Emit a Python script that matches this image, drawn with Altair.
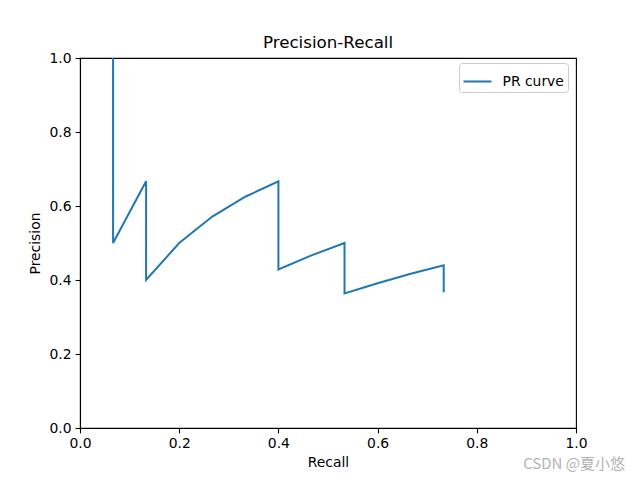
import altair as alt
import pandas as pd

recall = [0.0667, 0.0667, 0.1333, 0.1333, 0.2, 0.2667, 0.3333, 0.4, 0.4, 0.4667,
          0.5333, 0.5333, 0.6, 0.6667, 0.7333, 0.7333]
precision = [1.0, 0.5, 0.6667, 0.4, 0.5, 0.5714, 0.625, 0.6667, 0.4286, 0.4667,
             0.5, 0.3636, 0.3913, 0.4167, 0.44, 0.3667]
series = ["PR curve"] * len(recall)
ticks = [0, 0.2, 0.4, 0.6, 0.8, 1.0]

df = pd.DataFrame({"recall": recall, "precision": precision,
                   "series": series, "order": list(range(len(recall)))})

line = alt.Chart(df).mark_line(strokeWidth=2).encode(
    x=alt.X("recall:Q", title="Recall",
            scale=alt.Scale(domain=[0, 1], nice=False),
            axis=alt.Axis(values=ticks, format=".1f", labelFlush=False)),
    y=alt.Y("precision:Q", title="Precision",
            scale=alt.Scale(domain=[0, 1], nice=False),
            axis=alt.Axis(values=ticks, format=".1f", labelFlush=False)),
    order="order:Q",
    color=alt.Color("series:N", title=None,
                    scale=alt.Scale(range=["#1f77b4"]),
                    legend=alt.Legend(orient="none", legendX=379, legendY=5,
                                      symbolType="stroke", symbolSize=784,
                                      symbolStrokeWidth=2,
                                      labelFontSize=13.9, labelFont="DejaVu Sans",
                                      labelColor="black",
                                      padding=3.5, fillColor="white",
                                      strokeColor="#cccccc", cornerRadius=3,
                                      labelOffset=10)),
)

wm = alt.Chart(pd.DataFrame({"t": ["CSDN @夏小悠"]})).mark_text(
    align="right", baseline="middle", fontSize=15, color="#b3b3b3",
    font="Noto Sans CJK SC"
).encode(x=alt.value(545), y=alt.value(406), text="t:N")

chart = alt.layer(line, wm).properties(
    width=496, height=370,
    title=alt.TitleParams("Precision-Recall", fontSize=16.7, fontWeight="normal",
                          font="DejaVu Sans", color="black", offset=-1),
    autosize=alt.AutoSizeParams(type="none"),
    padding={"left": 72, "top": 50, "right": 56, "bottom": 44},
).configure_axis(
    grid=False, domainColor="black", tickColor="black", tickSize=4.9,
    labelPadding=4, labelFont="DejaVu Sans", labelFontSize=13.9,
    labelColor="black", titleFont="DejaVu Sans", titleFontSize=13.9,
    titleFontWeight="normal", titleColor="black", domainWidth=1.1, tickWidth=1.1,
).configure_axisY(titlePadding=7).configure_axisX(titlePadding=5).configure_view(
    stroke="black", strokeWidth=1.1
)

chart.save("out.html", embed_options={"renderer": "svg", "actions": False})
